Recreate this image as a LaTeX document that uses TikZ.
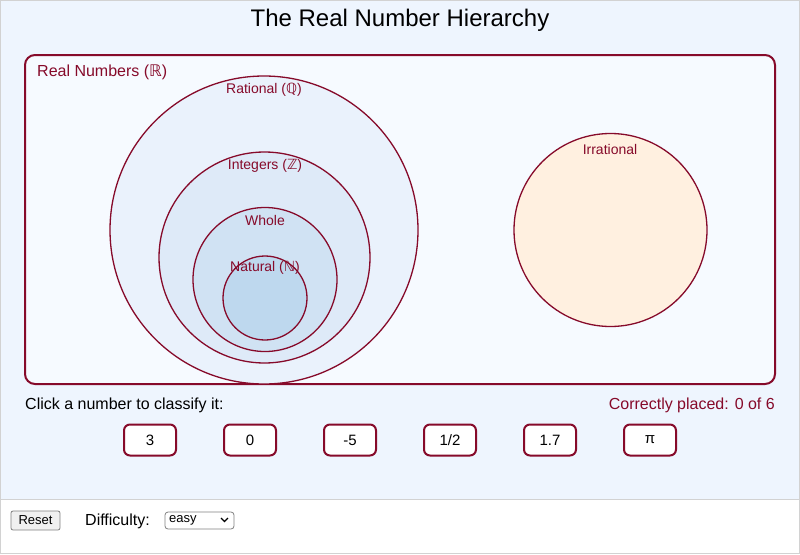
\documentclass[tikz,border=0pt]{standalone}
\usepackage{fontspec}
\setmainfont{Liberation Sans}
\newfontfamily\bbfont{DejaVu Sans}
\usetikzlibrary{positioning}
\definecolor{wine}{RGB}{134,10,42}
\definecolor{panel}{RGB}{238,245,254}
\definecolor{realbg}{RGB}{246,250,255}
\definecolor{ratbg}{RGB}{234,242,252}
\definecolor{intbg}{RGB}{222,234,248}
\definecolor{wholebg}{RGB}{208,226,243}
\definecolor{natbg}{RGB}{190,216,238}
\definecolor{irrbg}{RGB}{255,240,224}

\begin{document}
\begin{tikzpicture}[
    x=1pt, y=-1pt,
    setc/.style={draw=wine, line width=1.3pt},
    setlbl/.style={text=wine, font=\fontsize{14}{16}\selectfont},
    numbox/.style={draw=wine, line width=2pt, rounded corners=6pt, fill=white, minimum width=52pt, minimum height=31pt, font=\fontsize{15}{17}\selectfont},
    ctrl/.style={draw=black!50, line width=0.8pt, font=\fontsize{13}{15}\selectfont}
  ]
    \useasboundingbox (0,0) rectangle (800,554);

    % Page background
    \fill[panel] (0,0) rectangle (800,499);
    \draw[gray!35] (0.5,0.5) rectangle (799.5,553.5);
    \draw[gray!35] (0,499.5) -- (800,499.5);

    \node (title) at (400,20) {\fontsize{24}{28}\selectfont The Real Number Hierarchy};

    % Real numbers frame
    \draw[draw=wine, line width=2pt, rounded corners=10pt, fill=realbg] (25,55) rectangle (775,384);
    \node[setlbl, anchor=west, inner sep=0pt, font=\fontsize{16}{18}\selectfont] (real) at (37,72) {Real Numbers ({\bbfont ℝ})};

    % Nested rational sets
    \draw[setc, fill=ratbg] (264,230) circle[radius=154];
    \draw[setc, fill=intbg] (264.5,257.5) circle[radius=105.5];
    \draw[setc, fill=wholebg] (265,279.5) circle[radius=72];
    \draw[setc, fill=natbg] (265,298) circle[radius=42];
    \node[setlbl] (rat) at (264,90) {Rational ({\bbfont ℚ})};
    \node[setlbl] (int) at (265,166) {Integers ({\bbfont ℤ})};
    \node[setlbl] (whole) at (265,220) {Whole};
    \node[setlbl] (nat) at (265,268) {Natural ({\bbfont ℕ})};

    % Irrational set
    \draw[setc, fill=irrbg] (610.5,230) circle[radius=96.5];
    \node[setlbl] (irr) at (610,149) {Irrational};

    % Classification row
    \node[anchor=west, inner sep=0pt, font=\fontsize{16}{18}\selectfont] (hint) at (25,405) {Click a number to classify it:};
    \node[anchor=east, inner sep=0pt, text=wine, font=\fontsize{16}{18}\selectfont] (score) at (775,405) {Correctly placed: 0 of 6};

    \node[numbox] (n1) at (150,440) {3};
    \node[numbox, right=46pt of n1] (n2) {0};
    \node[numbox, right=46pt of n2] (n3) {-5};
    \node[numbox, right=46pt of n3] (n4) {1/2};
    \node[numbox, right=46pt of n4] (n5) {1.7};
    \node[numbox, right=46pt of n5] (n6) {π};

    % Controls
    \node[ctrl, fill=gray!12, rounded corners=2pt, minimum width=49pt, minimum height=19pt, inner sep=1pt] (reset) at (35.5,520.5) {Reset};
    \node[anchor=west, inner sep=0pt, font=\fontsize{16}{18}\selectfont] (diff) at (85,521) {Difficulty:};
    \node[ctrl, fill=white, rounded corners=3pt, minimum width=69pt, minimum height=17pt, inner sep=0pt] (level) at (199.5,520.5) {};
    \node[anchor=west, inner sep=0pt, font=\fontsize{13}{15}\selectfont] (easy) at (169,520) {easy};
    \draw[line width=1.3pt] (221,518) -- (224.5,521.5) -- (228,518);
  \end{tikzpicture}
\end{document}
